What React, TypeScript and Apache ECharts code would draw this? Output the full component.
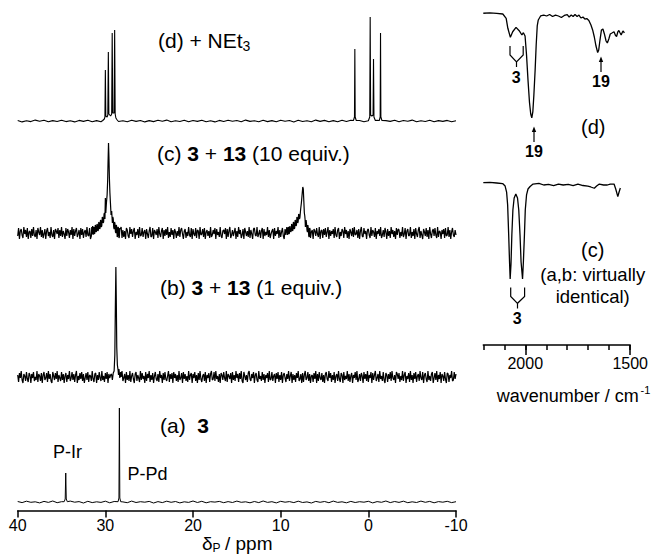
import React, { useEffect, useRef } from 'react';
import * as echarts from 'echarts';

const FONT = '"Liberation Sans", Arial, Helvetica, sans-serif';

// ---------- 31P NMR axis (ppm) ----------
const PPM_MIN = -10;
const PPM_MAX = 40;
const PPM_INTERVAL = 10;

// Baseline noise, evenly spaced from 40 ppm downwards (estimated)
const A_STEP = 0.5;
const A_NOISE = [
  0.5,-0.6,0.8,-0.3,0.2,-0.9,0.6,-0.4,1,-0.7,0.3,-0.5,0.9,-0.2,0.4,-1,0.7,-0.6,0.2,-0.4,0.8,-0.8,0.5,-0.3,0.1,
  -0.7,0.9,-0.5,0.3,-0.2,0.6,-1,0.4,-0.6,0.8,-0.3,0.5,-0.9,0.2,-0.4,1,-0.5,0.7,-0.8,0.3,-0.1,0.6,-0.7,0.4,-0.5,
  0.9,-0.3,0.2,-0.8,0.5,-0.6,1,-0.4,0.3,-0.9,0.7,-0.2,0.4,-0.6,0.8,-0.5,0.1,-1,0.6,-0.3,0.5,-0.7,0.9,-0.4,0.2,
  -0.8,0.6,-0.5,0.3,-0.2,0.7,-0.9,0.4,-0.3,1,-0.6,0.5,-0.4,0.8,-0.7,0.2,-0.5,0.9,-0.3,0.6,-0.8,0.4,-0.2,0.7,-0.6,0.3,
];
const B_STEP = 0.1;
const B_NOISE = [
  2,-5,4,-1,6,-3,-6,3,1,-4,5,-2,-5,4,2,-6,3,-1,5,-4,0,-3,6,-5,3,
  1,-4,4,-6,2,5,-3,-1,4,-5,6,-2,3,-4,-6,5,1,-3,4,-2,6,-5,2,-1,-4,
  5,-3,3,-6,1,4,-5,2,-2,6,-4,-1,5,-3,3,-5,2,6,-6,1,-3,4,-2,5,-4,
  3,-6,-1,4,-3,5,-5,2,1,-4,6,-2,-5,3,4,-6,2,-3,5,-1,-4,6,-3,1,-5,
  4,-2,5,-6,3,-1,2,-5,6,-4,-2,3,5,-6,1,-3,4,-5,2,6,-4,-1,3,-6,5,
  -3,2,-4,6,-5,1,4,-2,-6,3,5,-4,2,-1,-5,6,-3,4,-2,1,-6,5,-4,3,-1,
  6,-5,2,-3,4,-6,1,5,-2,-4,3,-5,6,-1,2,-6,4,-3,5,-2,-4,1,6,-5,3,
  -2,4,-6,5,-1,3,-4,2,-5,6,-3,-1,4,-6,5,-2,3,-4,1,-5,6,-3,2,4,-6,
  3,-1,5,-4,2,-6,4,-3,6,-2,-5,1,3,-4,5,-6,2,-1,4,-5,3,6,-3,-2,5,
  -4,6,-2,1,-5,3,-6,4,2,-3,5,-1,-4,6,-5,3,1,-2,4,-6,5,-3,2,-4,6,
  -1,3,-5,4,-2,6,-4,-6,5,1,-3,2,-5,4,6,-2,-4,3,-1,5,-6,2,4,-3,-5,
  6,-2,1,-4,5,-3,3,-6,2,-1,4,-5,6,-3,-2,5,-4,1,3,-6,4,-2,5,-5,2,
  -3,5,-6,2,4,-1,-5,3,-2,6,-4,1,5,-6,3,-3,2,-5,4,-1,6,-4,-2,3,-6,
  4,-5,2,6,-3,-1,5,-4,3,-6,1,2,-5,4,-2,6,-6,3,-4,5,-1,-3,4,-5,2,
  -6,3,5,-2,-4,6,-1,4,-5,2,-3,5,-6,1,3,-4,6,-2,-5,4,2,-6,5,-3,1,
  -2,6,-4,3,-5,1,4,-6,2,-1,5,-3,6,-5,-2,3,-4,4,1,-6,5,-2,3,-4,6,
  -5,2,-1,5,-6,4,-3,2,6,-4,-1,3,-5,6,-2,1,-4,5,-3,-6,4,2,-5,3,-2,
  5,-4,6,-1,-3,2,-6,5,3,-2,4,-5,1,-3,6,-4,2,5,-6,1,-2,4,-5,6,-3,
  2,-6,4,-2,5,-5,1,3,-4,6,-1,-3,5,-6,2,4,-2,-5,6,-3,1,-4,3,5,-6,
  -1,4,-3,6,-5,2,-2,5,-6,3,1,-4,5,-2,-6,4,3,-5,2,-1,6,-4,-3,5,-2,
  3,
];
const C_STEP = 0.1;
const C_NOISE = [
  -3,5,-6,2,4,-2,-5,6,-1,3,-4,5,-6,1,2,-5,4,-3,6,-2,-4,3,-6,5,1,
  -2,6,-4,3,-5,-1,4,-6,2,5,-3,1,-5,6,-2,-4,3,-6,4,2,-1,5,-5,3,-3,
  6,-4,2,-1,-6,5,-3,4,1,-5,3,-2,6,-6,4,-3,2,5,-4,-1,3,-6,5,-2,4,
  -5,1,3,-4,6,-2,-3,5,-6,2,4,-1,-5,3,6,-4,2,-6,5,-3,1,-2,4,-5,6,
  -1,4,-6,3,-2,5,2,-5,4,-3,6,-6,1,3,-4,5,-2,-1,6,-5,3,-4,2,-6,5,
  3,-3,-5,6,-1,4,-4,2,5,-6,1,-2,4,-5,6,-3,-2,5,-4,1,3,-6,4,-1,-5,
  2,6,-4,-3,5,-6,3,1,-2,4,-5,6,-1,-4,2,5,-6,3,-3,4,-2,6,-5,1,-4,
  5,-2,3,-6,4,1,-5,2,-3,6,-4,3,5,-1,-6,2,4,-5,1,-3,6,-2,-4,5,-6,
  4,-1,-3,5,-5,3,2,-6,6,-2,-1,4,-4,5,-6,1,3,-3,2,-5,6,-4,-2,3,-1,
  5,-6,4,-2,1,-4,6,-3,-5,2,3,-1,5,-6,4,-4,2,6,-5,-2,3,-3,1,5,-6,
  2,-4,6,-1,3,-5,-2,4,-6,5,1,-3,2,-4,6,-5,3,-1,-6,4,5,-2,-3,6,-4,
  -1,3,-5,2,5,-6,4,-3,1,-2,6,-4,3,-5,-1,2,4,-6,5,-3,2,-1,6,-5,3,
  -4,1,5,-3,-6,4,-2,6,-5,3,2,-4,-1,5,-6,3,-3,4,1,-5,6,-2,-4,2,5,
  -6,3,-1,4,-4,6,-3,-2,5,-5,1,3,-6,4,2,-3,5,-1,-4,6,-6,2,3,-5,4,
  -2,5,-4,1,6,-6,3,-3,2,-1,4,-5,6,-2,-4,3,5,-6,1,-3,4,2,-5,6,-1,
  3,-5,2,-6,4,1,-3,5,-4,6,-2,-1,3,-5,4,-6,2,6,-3,-4,5,-1,2,-6,3,
  4,-2,-5,6,-3,3,1,-4,5,-6,2,-1,4,-3,6,-5,-2,3,-4,5,1,-6,4,-3,2,
  -5,6,-1,3,-4,2,-6,5,-2,4,3,-5,1,-3,6,-4,-1,5,-6,2,4,-3,-2,6,-5,
  1,-3,4,-6,5,-1,-4,3,6,-5,2,-2,-6,4,1,-3,5,-4,3,-6,6,-1,-5,2,4,
  -3,5,-2,-5,6,-4,2,1,-6,3,-1,4,-5,5,-3,-2,6,-4,3,-6,1,5,-2,-4,3,
  -2,
];
const D_STEP = 0.5;
const D_NOISE = [
  0.6,-0.9,0.3,-0.6,0.9,-0.3,0.7,-0.8,0.4,-0.5,0.8,-0.6,0.2,-0.9,0.6,-0.4,0.8,-0.7,0.4,-0.8,0.7,-0.2,0.9,-0.5,0.3,
  -0.7,0.8,-0.4,0.5,-0.9,0.4,-0.6,0.7,-0.3,0.9,-0.8,0.2,-0.5,0.7,-0.8,0.5,-0.4,0.8,-0.7,0.3,-0.9,0.6,-0.5,0.8,-0.2,
  0.5,-0.7,0.9,-0.4,0.2,-0.8,0.7,-0.6,0.4,-0.8,0.7,-0.3,0.5,-0.9,0.8,-0.5,0.2,-0.7,0.9,-0.4,0.6,-0.7,0.4,-0.8,0.7,
  -0.5,0.8,-0.2,0.5,-0.8,0.3,-0.6,0.7,-0.9,0.4,-0.4,0.8,-0.7,0.5,-0.3,0.9,-0.7,0.2,-0.5,0.7,-0.8,0.4,-0.4,0.6,-0.8,0.3,
];

// Peak groups: [ppm, intensity]
const A_PEAKS = [
  [[34.7, 0.3], [34.58, 3], [34.52, 29], [34.46, 3], [34.34, 0.3]],
  [[28.55, 0.3], [28.45, 4], [28.4, 94], [28.35, 4], [28.25, 0.3]],
];
const B_PEAKS = [
  [[29.3, 3], [29.2, -3], [29.1, 4], [29.0, 6], [28.92, 22], [28.86, 70], [28.8, 110], [28.75, 75], [28.7, 30],
   [28.63, 12], [28.55, 7], [28.5, 2], [28.45, 8], [28.35, -1], [28.25, 5], [28.2, 0]],
];
const C_PEAKS = [
  [[31.6, -3], [31.55, 6], [31.5, -1], [31.45, 7], [31.4, -2], [31.35, 5], [31.3, 6], [31.25, -1], [31.2, 0],
   [31.15, 8], [31.1, 7], [31.05, 1], [31.0, 2], [30.95, 9], [30.9, 8], [30.85, 2], [30.8, 3], [30.75, 11],
   [30.7, 10], [30.65, 4], [30.6, 5], [30.55, 13], [30.5, 12], [30.45, 6], [30.4, 8], [30.35, 16], [30.3, 15],
   [30.25, 10], [30.2, 11], [30.15, 19], [30.1, 20], [30.05, 14], [30.0, 35],
   [29.95, 20], [29.88, 30], [29.8, 38], [29.74, 52], [29.69, 72], [29.64, 90], [29.59, 75], [29.54, 55],
   [29.48, 40], [29.42, 30], [29.35, 18], [29.28, 22], [29.2, 10], [29.15, 16], [29.1, 14], [29.05, 6],
   [29.0, 4], [28.95, 11], [28.9, 9], [28.85, 1], [28.8, 0], [28.75, 8], [28.7, 6], [28.65, -4], [28.6, -3],
   [28.55, 6], [28.5, 5], [28.45, -5], [28.4, -4], [28.35, 5], [28.3, 4]],
  [[9.2, -2], [9.15, 5], [9.1, 6], [9.05, -1], [9.0, 0], [8.95, 7], [8.9, 7], [8.85, 1], [8.8, 2], [8.75, 9],
   [8.7, 8], [8.65, 2], [8.6, 3], [8.55, 11], [8.5, 10], [8.45, 4], [8.4, 5], [8.35, 13], [8.3, 12], [8.25, 7],
   [8.2, 8], [8.15, 16], [8.1, 15], [8.05, 10], [8.0, 12], [7.95, 19], [7.9, 18], [7.85, 14], [7.8, 16],
   [7.72, 24], [7.64, 30], [7.56, 38], [7.48, 46], [7.42, 44], [7.36, 32], [7.3, 20], [7.25, 17], [7.22, 14],
   [7.18, 6], [7.14, 8], [7.1, 13], [7.05, 9], [7.0, 3], [6.95, 1], [6.9, 8], [6.85, 5], [6.8, -3],
   [6.75, -4], [6.7, 5], [6.65, 4]],
];
const D_PEAKS = [
  [[30.3, 0.5], [30.12, 2], [30.05, 4], [30.0, 51], [29.95, 5], [29.8, 4], [29.72, 6], [29.66, 69], [29.6, 7],
   [29.4, 5], [29.28, 7], [29.22, 88], [29.16, 8], [29.0, 8], [28.94, 91], [28.88, 7], [28.8, 3], [28.65, 1]],
  [[1.7, 0.5], [1.58, 4], [1.54, 72], [1.5, 4], [1.38, 0.5]],
  [[-0.05, 0.5], [-0.16, 4], [-0.21, 104], [-0.26, 6], [-0.4, 5], [-0.54, 6], [-0.59, 62], [-0.64, 4], [-0.8, 0.5]],
  [[-1.25, 0.5], [-1.35, 4], [-1.39, 88], [-1.43, 4], [-1.55, 0.5]],
];

// ---------- IR (wavenumber, relative transmittance) ----------
const WN_MIN = 1500;
const WN_MAX = 2200;
const WN_MINOR = 100;
const WN_LABELS = [1500, 2000];
const IR_D = [
  [2200, 100.7], [2169, 101], [2136, 100.5], [2107, 100], [2091, 95.9], [2083, 86.4], [2071, 77.8], [2060, 83.1],
  [2044, 87.3], [2029, 84.1], [2016, 80], [2009, 82.2], [2001, 79], [1994, 61], [1987, 37], [1980, 16], [1974, 4.8],
  [1969, 1], [1964, 6.7], [1959, 22.9], [1953, 46.7], [1948, 70.5], [1943, 88.6], [1938, 94.3], [1927, 98.1],
  [1912, 99], [1898, 98.1], [1884, 99.5], [1870, 97.6], [1856, 99], [1842, 98.1], [1828, 96.7], [1814, 98.6],
  [1800, 99.5], [1791, 97.1], [1781, 99], [1772, 97.6], [1763, 99.5], [1753, 97.6], [1744, 99], [1735, 96.2],
  [1725, 97.1], [1716, 95.2], [1707, 95.7], [1697, 93.8], [1687, 89.5], [1679, 84.8], [1671, 78.1], [1663, 69.5],
  [1655, 63.3], [1650, 65.7], [1644, 75.2], [1637, 84.8], [1630, 85.7], [1623, 81], [1615, 74.3], [1609, 72.4],
  [1602, 76.2], [1595, 81], [1587, 81.9], [1577, 83.1], [1571, 80], [1565, 78.6], [1559, 82.9], [1554, 84.3],
  [1548, 81.9], [1543, 80], [1537, 82.9], [1533, 83.8], [1528, 81.9],
];
const IR_C = [
  [2200, 100.3], [2169, 100.5], [2136, 100], [2108, 99.5], [2096, 97.1], [2089, 91.4], [2084, 79], [2079, 50.5],
  [2075, 24.8], [2072, 8.6], [2068, 22.9], [2064, 50.5], [2059, 74.3], [2053, 85.7], [2045, 89.5], [2037, 85.7],
  [2031, 74.3], [2025, 50.5], [2020, 24.8], [2013, 8.6], [2009, 24.8], [2004, 50.5], [2000, 74.3], [1994, 88.6],
  [1987, 94.3], [1977, 96.7], [1963, 99], [1935, 99.7], [1912, 98.1], [1889, 98.6], [1865, 97.6], [1842, 99],
  [1819, 98.1], [1795, 98.6], [1772, 97.6], [1749, 99], [1725, 97.6], [1702, 97.1], [1688, 96.2], [1671, 95],
  [1660, 97.1], [1647, 99], [1627, 98.1], [1609, 98.1], [1595, 99], [1577, 99], [1569, 94.3], [1559, 87],
  [1553, 91.4], [1547, 95.2],
];

// ---------- layout ----------
const NMR_OFFSETS = { a: 8.5, b: 133.5, c: 277.5, d: 389.5 };
const IR_TOP = { d: 331, c: 162 };
const IR_SCALE = 1.05;

function buildSpectrum(noise: number[], step: number, groups: number[][][]) {
  const windows = groups.map((g) => {
    const xs = g.map((p) => p[0]);
    return [Math.min(...xs), Math.max(...xs)];
  });
  const pts: number[][] = [];
  noise.forEach((v, i) => {
    const ppm = +(PPM_MAX - i * step).toFixed(3);
    if (windows.some(([lo, hi]) => ppm >= lo && ppm <= hi)) return;
    pts.push([ppm, v]);
  });
  groups.forEach((g) => g.forEach((p) => pts.push([p[0], p[1]])));
  pts.sort((p, q) => q[0] - p[0]);
  return pts;
}

const txt = (x: number, y: number, text: string, size: number, opts: any = {}) => ({
  type: 'text',
  x,
  y,
  silent: true,
  style: {
    text,
    fill: '#000',
    font: `${opts.bold ? 'bold ' : ''}${size}px ${FONT}`,
    align: opts.align || 'left',
    verticalAlign: 'middle',
    textAlign: opts.align || 'left',
    textVerticalAlign: 'middle',
    ...(opts.rich ? { rich: opts.rich } : {}),
  },
});

const richStyles = (size: number) => ({
  n: { fontSize: size, fontFamily: FONT, fill: '#000' },
  b: { fontSize: size, fontFamily: FONT, fontWeight: 'bold', fill: '#000' },
});

const stroke = { stroke: '#000', lineWidth: 1.2, fill: null };

export default function App() {
  const ref = useRef<HTMLDivElement>(null);
  useEffect(() => {
    if (!ref.current) return;
    const chart = echarts.init(ref.current, null, { renderer: 'svg' });

    const nmr = [
      { noise: A_NOISE, step: A_STEP, peaks: A_PEAKS, off: NMR_OFFSETS.a, w: 1 },
      { noise: B_NOISE, step: B_STEP, peaks: B_PEAKS, off: NMR_OFFSETS.b, w: 1.2 },
      { noise: C_NOISE, step: C_STEP, peaks: C_PEAKS, off: NMR_OFFSETS.c, w: 1.2 },
      { noise: D_NOISE, step: D_STEP, peaks: D_PEAKS, off: NMR_OFFSETS.d, w: 1.1 },
    ].map((s) => ({
      type: 'line',
      xAxisIndex: 0,
      yAxisIndex: 0,
      showSymbol: false,
      silent: true,
      lineStyle: { color: '#000', width: s.w },
      data: buildSpectrum(s.noise, s.step, s.peaks).map(([x, v]) => [x, s.off + v]),
    }));

    const ir = [
      { data: IR_D, top: IR_TOP.d },
      { data: IR_C, top: IR_TOP.c },
    ].map((s) => ({
      type: 'line',
      xAxisIndex: 1,
      yAxisIndex: 1,
      showSymbol: false,
      silent: true,
      lineStyle: { color: '#000', width: 1.3 },
      data: s.data.map(([w, t]) => [w, s.top - (100 - t) * IR_SCALE]),
    }));

    const axisBlack = { color: '#000', width: 1.5 };
    const plain = (v: number) => String(v);

    const option = {
      animation: false,
      backgroundColor: '#fff',
      grid: [
        { left: 17.7, right: 195, top: 0, bottom: 43.5 },
        { left: 483.3, right: 17.7, top: 0, bottom: 209 },
      ],
      xAxis: [
        {
          gridIndex: 0, type: 'value', min: PPM_MIN, max: PPM_MAX, interval: PPM_INTERVAL, inverse: true,
          position: 'bottom',
          axisLine: { lineStyle: axisBlack },
          axisTick: { length: 7, lineStyle: axisBlack },
          axisLabel: { color: '#000', fontSize: 16, fontFamily: FONT, margin: 7, formatter: plain },
          splitLine: { show: false },
        },
        {
          gridIndex: 1, type: 'value', min: WN_MIN, max: WN_MAX, interval: WN_MINOR, inverse: true,
          position: 'bottom', offset: 0,
          axisLine: { lineStyle: axisBlack },
          axisTick: { length: 5, lineStyle: axisBlack },
          axisLabel: { show: false },
          splitLine: { show: false },
        },
        {
          gridIndex: 1, type: 'value', min: WN_MIN, max: WN_MAX, interval: 500, inverse: true,
          position: 'bottom', offset: 0,
          axisLine: { show: false },
          axisTick: { length: 10, lineStyle: axisBlack, customValues: WN_LABELS },
          axisLabel: { color: '#000', fontSize: 16, fontFamily: FONT, margin: 10, customValues: WN_LABELS, formatter: plain },
          splitLine: { show: false },
        },
      ],
      yAxis: [
        { gridIndex: 0, type: 'value', min: 0, max: 510.5, show: false },
        { gridIndex: 1, type: 'value', min: 0, max: 345, show: false },
      ],
      series: [...nmr, ...ir],
      graphic: [
        // NMR labels
        txt(158, 40, '(d) + NEt', 21),
        txt(242.6, 46, '3', 14),
        txt(157, 153, '{n|(c) }{b|3}{n| + }{b|13}{n| (10 equiv.)}', 21, { rich: richStyles(21) }),
        txt(160, 287, '{n|(b) }{b|3}{n| + }{b|13}{n| (1 equiv.)}', 21, { rich: richStyles(21) }),
        txt(160, 425, '{n|(a)  }{b|3}', 21, { rich: richStyles(21) }),
        txt(53, 452, 'P-Ir', 18),
        txt(127.5, 474, 'P-Pd', 18),
        txt(202, 543, 'δ', 19),
        txt(212.5, 547.5, 'P', 12),
        txt(225, 543, '/ ppm', 19),
        // IR labels
        txt(593.3, 126.7, '(d)', 20, { align: 'center' }),
        txt(592.7, 250, '(c)', 20, { align: 'center' }),
        txt(592.7, 274, '(a,b: virtually', 18.5, { align: 'center' }),
        txt(592.7, 296.7, 'identical)', 18.5, { align: 'center' }),
        txt(516.3, 77.3, '3', 16, { align: 'center', bold: true }),
        txt(534, 151.7, '19', 16, { align: 'center', bold: true }),
        txt(601, 81.7, '19', 16, { align: 'center', bold: true }),
        txt(517.3, 318.3, '3', 16, { align: 'center', bold: true }),
        txt(496.7, 395.7, 'wavenumber / cm', 18),
        txt(640.5, 390, '-1', 11),
        // brackets
        { type: 'polyline', silent: true, shape: { points: [[510, 46], [510, 55], [516.5, 62], [523.2, 55], [523.2, 46]] }, style: stroke },
        { type: 'line', silent: true, shape: { x1: 516.5, y1: 62, x2: 516.5, y2: 67 }, style: stroke },
        { type: 'polyline', silent: true, shape: { points: [[510.7, 287.5], [510.7, 296.5], [517.5, 303.3], [524.6, 296.5], [524.6, 287.5]] }, style: stroke },
        { type: 'line', silent: true, shape: { x1: 517.5, y1: 303.3, x2: 517.5, y2: 308.5 }, style: stroke },
        // arrows
        { type: 'line', silent: true, shape: { x1: 534, y1: 142, x2: 534, y2: 131 }, style: stroke },
        { type: 'polygon', silent: true, shape: { points: [[531.8, 132], [536.2, 132], [534, 126.5]] }, style: { fill: '#000' } },
        { type: 'line', silent: true, shape: { x1: 601, y1: 72, x2: 601, y2: 61 }, style: stroke },
        { type: 'polygon', silent: true, shape: { points: [[598.8, 62], [603.2, 62], [601, 56.5]] }, style: { fill: '#000' } },
      ],
    };

    chart.setOption(option as any);
    return () => chart.dispose();
  }, []);

  return (
    <div
      ref={ref}
      style={{ position: 'fixed', left: 0, top: 0, width: 651, height: 554, background: '#fff' }}
    />
  );
}
